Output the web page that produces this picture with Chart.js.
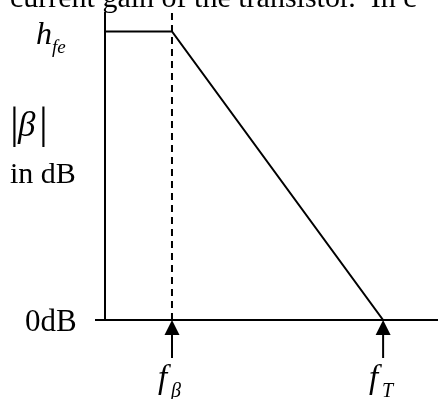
<!DOCTYPE html>
<html>
<head>
<meta charset="utf-8">
<script src="https://cdn.jsdelivr.net/npm/chart.js@4.4.0/dist/chart.umd.min.js"></script>
<style>
  html, body { margin: 0; padding: 0; background: #fff; }
  canvas { display: block; }
</style>
</head>
<body>
<canvas id="bodeChart" width="438" height="399"></canvas>
<script>
// asymptotic |beta| vs frequency (log axis): flat at hfe, then -20 dB/decade
const freqHz = [2.32, 10, 1000];     // axis start, f_beta, f_T
const gainDb = [40, 40, 0];          // hfe = 100 -> 40 dB, 0 dB at f_T
const betaCorner = 10;
const transitionFreq = 1000;
const markerFreqs = [betaCorner, transitionFreq];
const markerSubs = ['β', 'T'];
const xRange = [2.32, 3311];
const yRange = [0, 42.7];

const serif = '"Liberation Serif", "Times New Roman", serif';

function drawSubscripted(ctx, main, sub, x, y, size, subSize, subDx, subDy) {
  ctx.font = 'italic ' + size + 'px ' + serif;
  ctx.fillText(main, x, y);
  ctx.font = 'italic ' + subSize + 'px ' + serif;
  ctx.fillText(sub, x + subDx, y + subDy);
}

const annotations = {
  id: 'annotations',
  afterDatasetsDraw(chart) {
    const ctx = chart.ctx;
    const xs = chart.scales.x;
    const ys = chart.scales.y;
    const x0 = xs.getPixelForValue(xRange[0]);
    const yZero = ys.getPixelForValue(0);
    const yTop = ys.getPixelForValue(yRange[1]);

    ctx.save();
    ctx.strokeStyle = '#000';
    ctx.fillStyle = '#000';
    ctx.lineWidth = 2;

    // axes
    ctx.beginPath();
    ctx.moveTo(x0, yTop);
    ctx.lineTo(x0, yZero);
    ctx.moveTo(x0 - 10, yZero);
    ctx.lineTo(chart.width, yZero);
    ctx.stroke();

    // arrows pointing at the marked frequencies
    markerFreqs.forEach((f, i) => {
      const px = xs.getPixelForValue(f);
      ctx.beginPath();
      ctx.moveTo(px, yZero);
      ctx.lineTo(px - 7.5, yZero + 15);
      ctx.lineTo(px + 7.5, yZero + 15);
      ctx.closePath();
      ctx.fill();
      ctx.beginPath();
      ctx.moveTo(px, yZero + 14);
      ctx.lineTo(px, yZero + 38);
      ctx.stroke();
      drawSubscripted(ctx, 'f', markerSubs[i], px - 14, yZero + 68, 33, 20, 13, 9);
    });

    ctx.textBaseline = 'alphabetic';
    ctx.font = '30px ' + serif;
    ctx.fillText('current gain of the transistor.  In c', 10, 7);
    ctx.fillText('in dB', 10, 183);
    ctx.font = '31px ' + serif;
    ctx.fillText('0dB', 25, yZero + 11);
    ctx.font = '44px ' + serif;
    ctx.fillText('|', 10, 138);
    ctx.fillText('|', 39, 138);
    ctx.font = 'italic 35px ' + serif;
    ctx.fillText('β', 18, 136);
    drawSubscripted(ctx, 'h', 'fe', 36, ys.getPixelForValue(40) + 13, 32, 19, 16, 9);
    ctx.restore();
  }
};

function buildChart() {
  new Chart(document.getElementById('bodeChart'), {
    type: 'line',
    data: {
      datasets: [
        {
          data: freqHz.map((f, i) => ({ x: f, y: gainDb[i] })),
          borderColor: '#000',
          borderWidth: 2,
          pointRadius: 0,
          tension: 0
        },
        {
          data: [{ x: betaCorner, y: 0 }, { x: betaCorner, y: yRange[1] }],
          borderColor: '#000',
          borderWidth: 2,
          borderDash: [7, 5],
          pointRadius: 0
        }
      ]
    },
    options: {
      responsive: false,
      animation: false,
      layout: { padding: { left: 105, right: 0, top: 12, bottom: 79 } },
      plugins: { legend: { display: false }, tooltip: { enabled: false } },
      scales: {
        x: { type: 'logarithmic', min: xRange[0], max: xRange[1], display: false },
        y: { type: 'linear', min: yRange[0], max: yRange[1], display: false }
      }
    },
    plugins: [annotations]
  });
}

Promise.all([
  document.fonts.load('30px "Liberation Serif"'),
  document.fonts.load('italic 30px "Liberation Serif"')
]).then(buildChart, buildChart);
</script>
</body>
</html>
